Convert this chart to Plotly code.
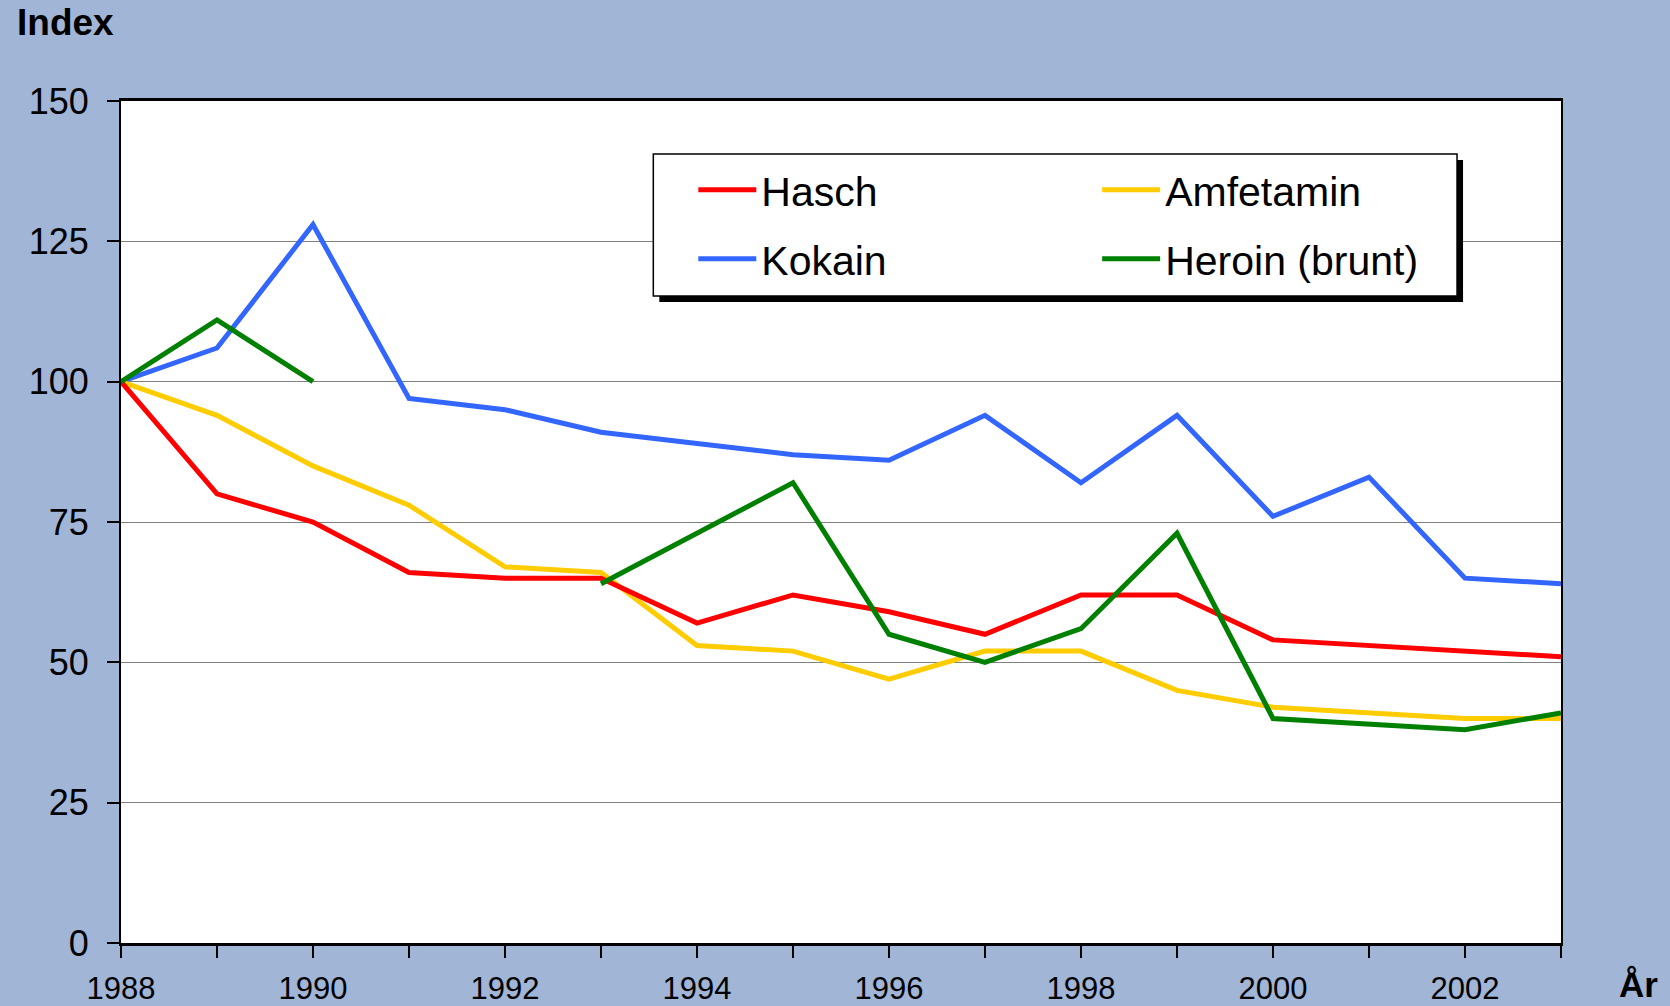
import plotly.graph_objects as go

years = list(range(1988, 2004))
hasch = [100, 80, 75, 66, 65, 65, 57, 62, 59, 55, 62, 62, 54, 53, 52, 51]
amfetamin = [100, 94, 85, 78, 67, 66, 53, 52, 47, 52, 52, 45, 42, 41, 40, 40]
kokain = [100, 106, 128, 97, 95, 91, 89, 87, 86, 94, 82, 94, 76, 83, 65, 64]
heroin = [100, 111, 100, None, None, 64, 73, 82, 55, 50, 56, 73, 40, 39, 38, 41]

x_tickvals = years
x_ticktext = [str(y) if (y - 1988) % 2 == 0 else "" for y in years]
y_tickvals = [0, 25, 50, 75, 100, 125, 150]

W, H = 1670, 1006
L, R, T, B = 120.5, 1561, 101, 943

def px(xp):
    return (xp - L) / (R - L)

def py(yp):
    return (B - yp) / (B - T)

FONT = "Liberation Sans, Arial, sans-serif"
LINE_W = 5

series = [
    ("Hasch", hasch, "#FF0000", "legend", 699, 190),
    ("Kokain", kokain, "#3366FF", "legend2", 699, 259),
    ("Amfetamin", amfetamin, "#FFCC00", "legend3", 1103, 190),
    ("Heroin (brunt)", heroin, "#008000", "legend4", 1103, 259),
]

fig = go.Figure()
for name, vals, col, leg, lx, ly in [series[1], series[2], series[0], series[3]]:
    fig.add_trace(go.Scatter(
        x=years, y=vals, mode="lines", name=name,
        line=dict(color=col, width=LINE_W),
        connectgaps=False, legend=leg, hoverinfo="x+y+name",
    ))

legend_common = dict(
    bgcolor="rgba(0,0,0,0)", borderwidth=0,
    font=dict(family=FONT, size=41, color="black"),
    itemwidth=58, xanchor="left", yanchor="middle",
)
legends = {}
for name, vals, col, leg, lx, ly in series:
    legends[leg] = dict(legend_common, x=px(lx - 6), y=py(ly))

fig.update_layout(
    width=W, height=H,
    margin=dict(l=L, r=W - R, t=T, b=H - B, pad=0, autoexpand=False),
    paper_bgcolor="#A1B5D6",
    plot_bgcolor="white",
    showlegend=True,
    **legends,
    xaxis=dict(
        range=[1988, 2003], tickvals=x_tickvals, ticktext=x_ticktext,
        showgrid=False, zeroline=False, automargin=False,
        showline=True, linecolor="black", linewidth=2.5, mirror=True,
        ticks="outside", ticklen=12, tickwidth=2, tickcolor="black",
        tickfont=dict(family=FONT, size=31, color="black"),
        ticklabelstandoff=4,
    ),
    yaxis=dict(
        range=[0, 150], tickvals=y_tickvals,
        showgrid=True, gridcolor="#808080", gridwidth=1, zeroline=False,
        automargin=False,
        showline=True, linecolor="black", linewidth=2, mirror=True,
        ticks="outside", ticklen=12, tickwidth=2, tickcolor="black",
        tickfont=dict(family=FONT, size=36, color="black"),
        ticklabelstandoff=11,
    ),
    shapes=[
        dict(type="rect", xref="paper", yref="paper",
             x0=px(653 + 6), x1=px(1457 + 6), y0=py(296 + 6), y1=py(154 + 6),
             fillcolor="black", line=dict(width=0), layer="above"),
        dict(type="rect", xref="paper", yref="paper",
             x0=px(653), x1=px(1457), y0=py(296), y1=py(154),
             fillcolor="white", line=dict(color="black", width=1.5), layer="above"),
    ],
    annotations=[
        dict(text="<b>Index</b>", xref="paper", yref="paper",
             x=px(14), y=py(22.5), xanchor="left", yanchor="middle",
             showarrow=False, font=dict(family=FONT, size=37, color="black")),
        dict(text="<b>År</b>", xref="paper", yref="paper",
             x=px(1660), y=py(984), xanchor="right", yanchor="middle",
             showarrow=False, font=dict(family=FONT, size=35, color="black")),
    ],
)

fig.write_html(
    "out.html",
    config={"displayModeBar": False},
    post_script="document.body.style.margin='0';document.body.style.overflow='hidden';",
)
